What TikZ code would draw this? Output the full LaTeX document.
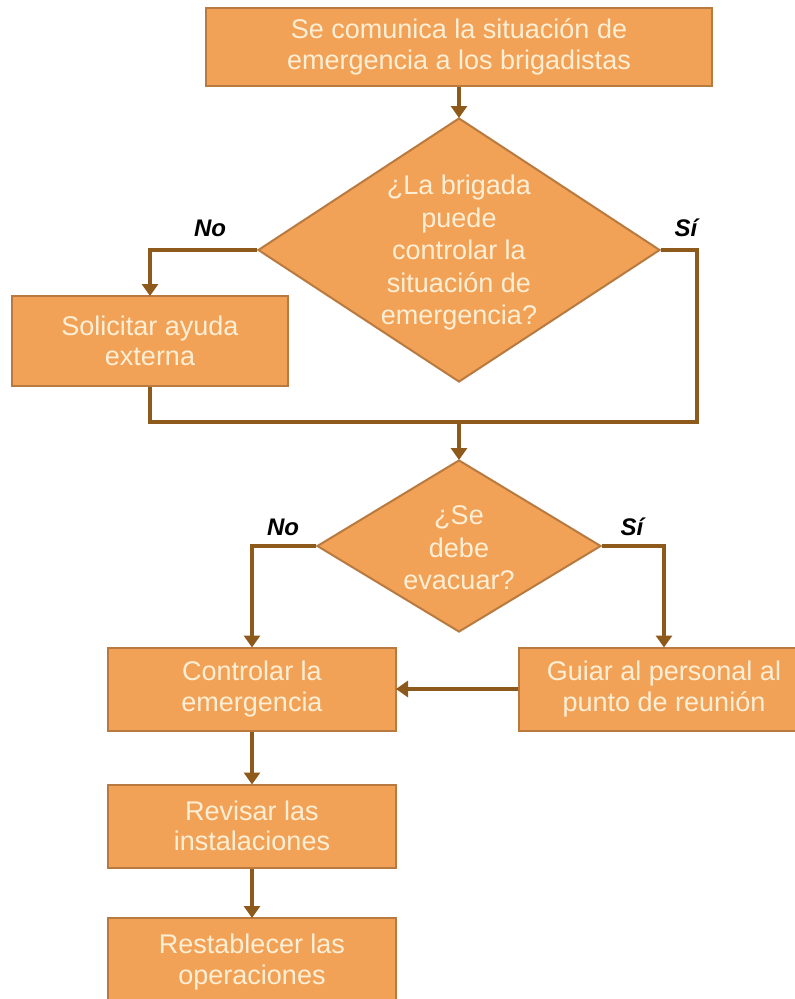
\documentclass[tikz,border=0pt]{standalone}
\usepackage{fontspec}
\setmainfont{Liberation Sans}
\usetikzlibrary{shapes.geometric,arrows.meta}
\definecolor{boxfill}{HTML}{F2A257}
\definecolor{boxline}{HTML}{B97A40}
\definecolor{arrowc}{HTML}{8E5A1C}
\definecolor{txt}{HTML}{FDEFD6}
\tikzset{
  stepbox/.style={draw=boxline, line width=2pt, fill=boxfill, rectangle, inner sep=0pt,
    text=txt, align=center, font=\fontsize{27}{30.5}\selectfont},
  decision/.style={draw=boxline, line width=2pt, fill=boxfill, diamond, inner sep=0pt},
  dtext/.style={text=txt, align=center, font=\fontsize{27}{32.5}\selectfont},
  conn/.style={draw=arrowc, line width=3.5pt},
  arr/.style={conn, -{Triangle[length=12pt,width=16pt]}, shorten >=-1pt},
  lab/.style={font=\fontsize{24}{26}\selectfont\bfseries\itshape, text=black}
}
\begin{document}
\begin{tikzpicture}[x=1pt,y=-1pt]
\useasboundingbox (0,0) rectangle (795,999);
\clip (0,0) rectangle (795,999);
\fill[white] (0,0) rectangle (795,999);
% nodes
\node[stepbox, minimum width=506pt, minimum height=78pt] (top) at (459,47)
  {Se comunica la situación de\\emergencia a los brigadistas};
\node[decision, minimum width=402pt, minimum height=264pt,
  label={[dtext, yshift=-3pt]center:¿La brigada\\puede\\controlar la\\situación de\\emergencia?}] (d1) at (459,250) {};
\node[stepbox, minimum width=276pt, minimum height=90pt] (sol) at (150,341)
  {Solicitar ayuda\\externa};
\coordinate (j) at (459,422);
\node[decision, minimum width=284pt, minimum height=172pt,
  label={[dtext, yshift=-2pt]center:¿Se\\debe\\evacuar?}] (d2) at (459,546) {};
\node[stepbox, minimum width=288pt, minimum height=83pt] (ctl) at (252,689)
  {Controlar la\\emergencia};
\node[stepbox, minimum width=290pt, minimum height=83pt] (gui) at (664,689)
  {Guiar al personal al\\punto de reunión};
\node[stepbox, minimum width=288pt, minimum height=83pt] (rev) at (252,826)
  {Revisar las\\instalaciones};
\node[stepbox, minimum width=288pt, minimum height=88pt] (res) at (252,962)
  {Restablecer las\\operaciones};
% labels
\node[lab] (no1) at (210,228) {No};
\node[lab] (si1) at (686,228) {Sí};
\node[lab] (no2) at (283,527) {No};
\node[lab] (si2) at (632,527) {Sí};
% connectors
\draw[arr] (top.south) -- (d1.north);
\draw[arr] (d1.west) -| (sol.north);
\draw[conn] (d1.east) -- (697,250) |- (j);
\draw[conn] (sol.south) |- (j);
\draw[arr] (j) -- (d2.north);
\draw[arr] (d2.west) -| (ctl.north);
\draw[arr] (d2.east) -| (gui.north);
\draw[arr] (gui.west) -- (ctl.east);
\draw[arr] (ctl.south) -- (rev.north);
\draw[arr] (rev.south) -- (res.north);
\end{tikzpicture}
\end{document}
